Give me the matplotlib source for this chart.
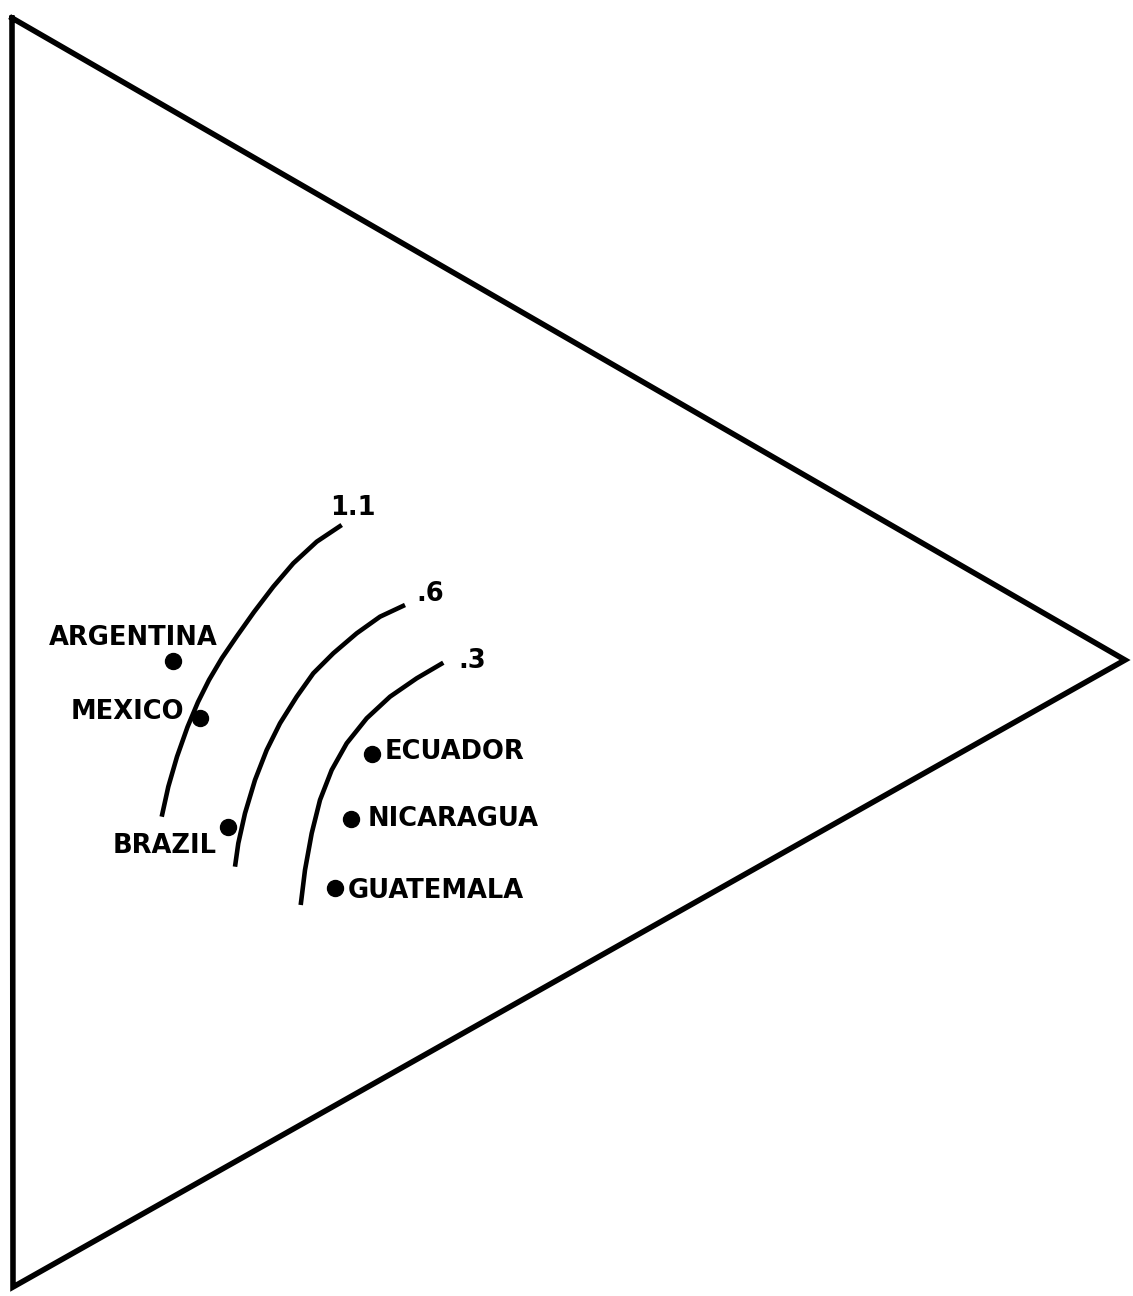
import matplotlib.pyplot as plt

# Triangle outline (image-like coordinates, y grows downward)
tri_x = [12, 1125, 13, 12]
tri_y = [18, 660, 1287, 18]

# Iso-lines with their labels
curve_labels = ['1.1', '.6', '.3']
curve_x = [
    [341.7, 316.7, 293.3, 273.3, 254, 237, 222, 209, 198, 187.5, 177, 168.3, 161.7],
    [405, 380, 356.7, 333.3, 313.3, 296.7, 280, 266.7, 255, 245, 238.3, 235],
    [443.3, 416.7, 390, 366.7, 346.7, 331.7, 320, 311.7, 305, 300.7],
]
curve_y = [
    [525, 541.7, 563.3, 586.7, 612, 636, 658, 680, 702, 727, 756.7, 786.7, 816.7],
    [605, 616.7, 633.3, 653.3, 673.3, 696.7, 723.3, 750, 780, 813.3, 843.3, 866.7],
    [662.7, 678.3, 696.7, 718.3, 743.3, 770, 800, 833.3, 870, 905],
]
label_x = [353, 430, 472]
label_y = [508, 594, 661]

# Countries
countries = ['ARGENTINA', 'MEXICO', 'BRAZIL', 'ECUADOR', 'NICARAGUA', 'GUATEMALA']
pt_x = [173, 200, 228, 372, 351, 335]
pt_y = [661, 718, 827, 754, 819, 888]
txt_x = [133, 127, 165, 385, 368, 348]
txt_y = [638, 712, 846, 752, 819, 891]
txt_ha = ['center', 'center', 'center', 'left', 'left', 'left']

fig = plt.figure(figsize=(11.33, 12.96), dpi=100)
ax = fig.add_axes([0, 0, 1, 1])
ax.set_xlim(0, 1133)
ax.set_ylim(1296, 0)
ax.axis('off')

ax.plot(tri_x, tri_y, color='black', lw=4.0, solid_joinstyle='miter')

font = dict(family='DejaVu Sans', fontweight='bold', fontsize=18.5, color='black')

for cx, cy, lab, lx, ly in zip(curve_x, curve_y, curve_labels, label_x, label_y):
    ax.plot(cx, cy, color='black', lw=3.3, solid_capstyle='butt',
            solid_joinstyle='round')
    ax.text(lx, ly, lab, ha='center', va='center', **font)

ax.plot(pt_x, pt_y, 'o', color='black', markersize=11.5, linestyle='none')
for name, x, y, ha in zip(countries, txt_x, txt_y, txt_ha):
    ax.text(x, y, name, ha=ha, va='center', **font)

fig.savefig('out.png', dpi=100)
